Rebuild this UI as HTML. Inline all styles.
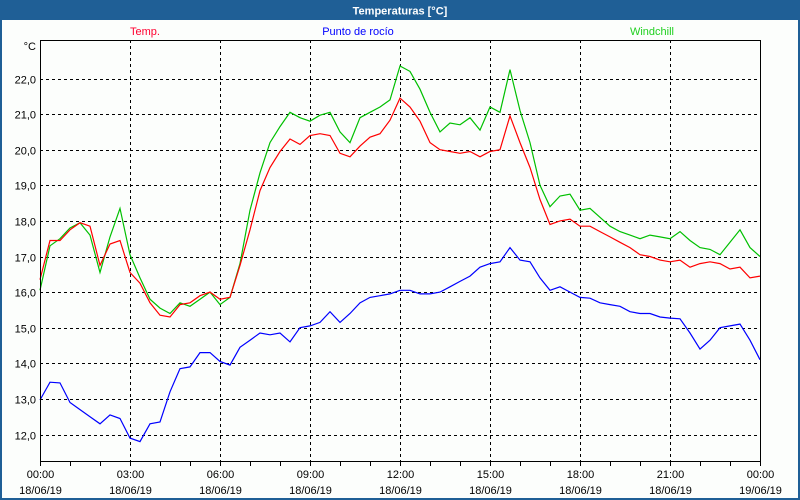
<!DOCTYPE html>
<html><head><meta charset="utf-8"><style>
html,body{margin:0;padding:0;background:#fff;}
svg{display:block;font-family:"Liberation Sans",sans-serif;}
</style></head><body>
<svg id="chart" width="800" height="500" viewBox="0 0 800 500">
<rect x="0" y="0" width="800" height="500" fill="#1f5f96"/>
<rect x="2" y="20" width="796" height="478" fill="#fcfefc"/>
<text x="400" y="14.5" fill="#fff" font-size="11" font-weight="bold" text-anchor="middle">Temperaturas [°C]</text>
<text x="145" y="35" fill="#ff0030" font-size="11" text-anchor="middle">Temp.</text>
<text x="358" y="35" fill="#0000ff" font-size="11" text-anchor="middle">Punto de rocío</text>
<text x="652" y="35" fill="#20d020" font-size="11" text-anchor="middle">Windchill</text>
<text x="36" y="50" fill="#000" font-size="11" text-anchor="end">°C</text>
<g id="grid"></g><g id="ticks"></g><g id="series"></g>
<rect x="40.5" y="40.5" width="720" height="421" fill="none" stroke="#000" stroke-width="1"/>
</svg>
<script>
const yTicks = [12,13,14,15,16,17,18,19,20,21,22];
const xTickLabels = ["00:00","03:00","06:00","09:00","12:00","15:00","18:00","21:00","00:00"];
const xDateLabels = ["18/06/19","18/06/19","18/06/19","18/06/19","18/06/19","18/06/19","18/06/19","18/06/19","19/06/19"];
const temp = [16.35,17.45,17.45,17.75,17.95,17.85,16.75,17.35,17.45,16.55,16.25,15.7,15.35,15.3,15.65,15.7,15.9,16.0,15.8,15.85,16.75,17.75,18.85,19.5,19.95,20.3,20.15,20.4,20.45,20.4,19.9,19.8,20.1,20.35,20.45,20.83,21.45,21.2,20.8,20.2,20.0,19.95,19.9,19.95,19.8,19.95,20.0,20.95,20.2,19.5,18.6,17.9,18.0,18.05,17.85,17.85,17.7,17.55,17.4,17.25,17.05,17.0,16.9,16.85,16.9,16.7,16.8,16.85,16.8,16.65,16.7,16.4,16.45];
const dewPoint = [12.97,13.47,13.45,12.9,12.7,12.5,12.3,12.55,12.45,11.9,11.8,12.3,12.35,13.2,13.85,13.9,14.3,14.3,14.05,13.95,14.45,14.65,14.85,14.8,14.85,14.6,15.0,15.05,15.15,15.45,15.15,15.4,15.7,15.85,15.9,15.95,16.05,16.05,15.95,15.95,16.0,16.15,16.3,16.45,16.7,16.8,16.85,17.25,16.9,16.85,16.4,16.05,16.15,16.0,15.85,15.83,15.7,15.65,15.6,15.45,15.4,15.4,15.3,15.27,15.25,14.85,14.4,14.65,15.0,15.05,15.1,14.65,14.1];
const windchill = [16.05,17.3,17.5,17.8,17.95,17.6,16.55,17.55,18.35,17.05,16.4,15.8,15.55,15.4,15.7,15.6,15.8,16.0,15.65,15.85,16.8,18.3,19.35,20.2,20.65,21.05,20.9,20.8,20.97,21.05,20.5,20.2,20.9,21.05,21.2,21.4,22.35,22.2,21.7,21.05,20.5,20.75,20.7,20.9,20.55,21.2,21.05,22.25,21.1,20.2,19.0,18.4,18.7,18.75,18.3,18.35,18.1,17.85,17.7,17.6,17.5,17.6,17.55,17.5,17.7,17.45,17.25,17.2,17.05,17.4,17.75,17.25,17.0];
const stepMinutes = 20;

const NS="http://www.w3.org/2000/svg";
const X0=40,X1=760,totalMin=1440;
function xScale(min){return X0+(min/totalMin)*(X1-X0);}
function yScale(v){return 78.5+(22-v)*35.6;}
function mk(tag,attrs,parent){const e=document.createElementNS(NS,tag);for(const k in attrs)e.setAttribute(k,attrs[k]);parent.appendChild(e);return e;}
const grid=document.getElementById('grid'),ticks=document.getElementById('ticks'),series=document.getElementById('series');
yTicks.forEach(v=>{
  const y=Math.round(yScale(v))+0.5;
  const l=mk('line',{x1:X0,x2:X1,y1:y,y2:y,stroke:'#000','stroke-dasharray':'3,3'},grid);
  
  
  const t=mk('text',{x:36,y:y+4,'font-size':11,'text-anchor':'end',fill:'#000'},ticks);
  t.textContent=v.toFixed(1).replace('.',',');
  
  
});
xTickLabels.forEach((lab,i)=>{
  const x=Math.round(xScale(i*180))+0.5;
  if(i>0&&i<xTickLabels.length-1){
    const l=mk('line',{x1:x,x2:x,y1:40,y2:461,stroke:'#000','stroke-dasharray':'3,3'},grid);
    
    
  }
  const t=mk('text',{x:x,y:478,'font-size':11,'text-anchor':'middle',fill:'#000'},ticks);
  t.textContent=lab;
  
  
  const d=mk('text',{x:x,y:494,'font-size':11,'text-anchor':'middle',fill:'#000'},ticks);
  d.textContent=xDateLabels[i];
  
  
});
for(let h=0;h<=24;h++){
  const x=Math.round(xScale(h*60))+0.5;
  const l=mk('line',{x1:x,x2:x,y1:461,y2:466,stroke:'#000'},ticks);
  
  
}
function drawSeries(arr,color,name){
  const pts=arr.map((v,i)=>xScale(i*stepMinutes).toFixed(1)+','+yScale(v).toFixed(1)).join(' ');
  const p=mk('polyline',{points:pts,fill:'none',stroke:color,'stroke-width':1.2},series);
  
  
}
drawSeries(dewPoint,'#0000ff','dew-point-line');
drawSeries(windchill,'#00c000','windchill-line');
drawSeries(temp,'#ff0000','temp-line');
</script>
</body></html>
